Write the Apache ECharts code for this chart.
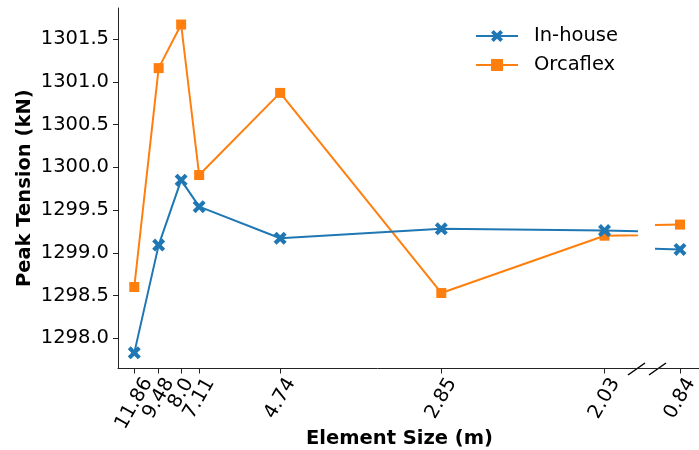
<!DOCTYPE html>
<html>
<head>
<meta charset="utf-8">
<script src="https://cdn.jsdelivr.net/npm/echarts@6/dist/echarts.min.js"></script>
<style>
  html, body { margin: 0; padding: 0; background: #fff; }
  #chart { width: 699px; height: 450px; }
</style>
</head>
<body>
<div id="chart"></div>
<script>
// element sizes (m), plotted against 1/size like the original
const sizes = [11.86, 9.48, 8.0, 7.11, 4.74, 2.85, 2.03, 0.84]
const tickLabels = ['11.86', '9.48', '8.0', '7.11', '4.74', '2.85', '2.03', '0.84']
const inHouse = [1297.83, 1299.09, 1299.85, 1299.54, 1299.17, 1299.28, 1299.26, 1299.04]
const orcaflex = [1298.60, 1301.16, 1301.67, 1299.91, 1300.87, 1298.53, 1299.20, 1299.33]
const yTicks = [1298.0, 1298.5, 1299.0, 1299.5, 1300.0, 1300.5, 1301.0, 1301.5]
const brokenSize = 0.84

const FONT = 'DejaVu Sans'
const BLUE = '#1f77b4'
const ORANGE = '#ff7f0e'
const X_MARK = 'path://M0,0.45L0.45,0L1,0.55L1.55,0L2,0.45L1.45,1L2,1.55L1.55,2L1,1.45L0.45,2L0,1.55L0.55,1Z'

const chart = echarts.init(document.getElementById('chart'))

const mainMin = 0.07018
const mainMax = 0.5208
const pts = (vals) => sizes.map((s, i) => [1 / s, vals[i]])
const mainTicks = sizes.filter(s => s !== brokenSize).map(s => 1 / s)
const breakTicks = [1 / brokenSize]

const labelFor = (v) => {
  const i = sizes.findIndex(s => Math.abs(1 / s - v) < 1e-9)
  if (i < 0) return ' '
  const t = tickLabels[i]
  if (t.length > 4) return `{l|${t}}`
  if (t.length < 4) return `{s|${t}}`
  return `{n|${t}}`
}

const xLabel = {
  rotate: 60,
  align: 'center',
  verticalAlign: 'middle',
  margin: 30,
  hideOverlap: false,
  formatter: labelFor,
  rich: {
    n: { fontFamily: FONT, fontSize: 19.5, color: '#000' },
    l: { fontFamily: FONT, fontSize: 19.5, color: '#000', padding: [5, 9, 0, 0] },
    s: { fontFamily: FONT, fontSize: 19.5, color: '#000', padding: [0, 0, 5, 9] }
  }
}

const yRange = { min: 1297.647, max: 1301.863 }

const seriesFor = (idx) => [
  {
    name: 'In-house', type: 'line', xAxisIndex: idx, yAxisIndex: idx,
    data: pts(inHouse), symbol: X_MARK, symbolSize: 13,
    lineStyle: { color: BLUE, width: 2 }, itemStyle: { color: BLUE },
    clip: true, z: 3
  },
  {
    name: 'Orcaflex', type: 'line', xAxisIndex: idx, yAxisIndex: idx,
    data: pts(orcaflex), symbol: 'rect', symbolSize: 10,
    lineStyle: { color: ORANGE, width: 2 }, itemStyle: { color: ORANGE },
    clip: true, z: 2
  }
]

const options = {
  animation: false,
  textStyle: { fontFamily: FONT },
  grid: [
    { left: 118, right: 62, top: 8, bottom: 81.5, outerBoundsMode: 'none', containLabel: false },
    { left: 656, right: 0, top: 8, bottom: 81.5, outerBoundsMode: 'none', containLabel: false }
  ],
  legend: {
    orient: 'vertical',
    left: 475,
    top: 26,
    padding: 0,
    itemWidth: 42,
    itemHeight: 15,
    itemGap: 9,
    data: ['In-house', 'Orcaflex'],
    textStyle: { fontFamily: FONT, fontSize: 19.5, color: '#000', padding: [0, 0, 0, 11] }
  },
  xAxis: [
    {
      type: 'value', gridIndex: 0, min: mainMin, max: mainMax,
      name: 'Element Size (m)', nameLocation: 'middle', nameGap: 60, nameMoveOverlap: false,
      nameTextStyle: { fontFamily: FONT, fontSize: 19.5, fontWeight: 'bold', color: '#000', padding: [0, 0, 0, 44] },
      axisLine: { onZero: false, lineStyle: { color: '#222', width: 1 } },
      axisTick: { show: true, length: 5, customValues: mainTicks, lineStyle: { color: '#222' } },
      // a blank label at the axis start takes the min-label overlap check
      axisLabel: Object.assign({ customValues: [mainMin, ...mainTicks], showMinLabel: false, showMaxLabel: true }, xLabel),
      splitLine: { show: false }
    },
    {
      type: 'value', gridIndex: 1, min: 1.16966, max: 1.20696,
      axisLine: { onZero: false, lineStyle: { color: '#222', width: 1 } },
      axisTick: { show: true, length: 5, customValues: breakTicks, lineStyle: { color: '#222' } },
      axisLabel: Object.assign({ customValues: breakTicks, showMinLabel: true, showMaxLabel: true }, xLabel),
      splitLine: { show: false }
    }
  ],
  yAxis: [
    {
      type: 'value', gridIndex: 0, min: yRange.min, max: yRange.max,
      name: 'Peak Tension (kN)', nameLocation: 'middle', nameGap: 83, nameMoveOverlap: false,
      nameTextStyle: { fontFamily: FONT, fontSize: 19.5, fontWeight: 'bold', color: '#000' },
      axisLine: { show: true, onZero: false, lineStyle: { color: '#222', width: 1 } },
      axisTick: { show: true, length: 5, customValues: yTicks, lineStyle: { color: '#222' } },
      axisLabel: {
        customValues: yTicks, margin: 9,
        fontFamily: FONT, fontSize: 19.5, color: '#000',
        formatter: (v) => v.toFixed(1)
      },
      splitLine: { show: false }
    },
    {
      type: 'value', gridIndex: 1, min: yRange.min, max: yRange.max,
      show: false, splitLine: { show: false }
    }
  ],
  graphic: [
    // spine between the two parts and the break marks
    { type: 'line', shape: { x1: 637, y1: 368.5, x2: 656, y2: 368.5 }, style: { stroke: '#222', lineWidth: 1 } },
    { type: 'line', shape: { x1: 628, y1: 375, x2: 645, y2: 363 }, style: { stroke: '#000', lineWidth: 1.5 } },
    { type: 'line', shape: { x1: 649, y1: 375, x2: 666, y2: 363 }, style: { stroke: '#000', lineWidth: 1.5 } }
  ],
  series: [...seriesFor(0), ...seriesFor(1)]
}

chart.setOption(options)
</script>
</body>
</html>
